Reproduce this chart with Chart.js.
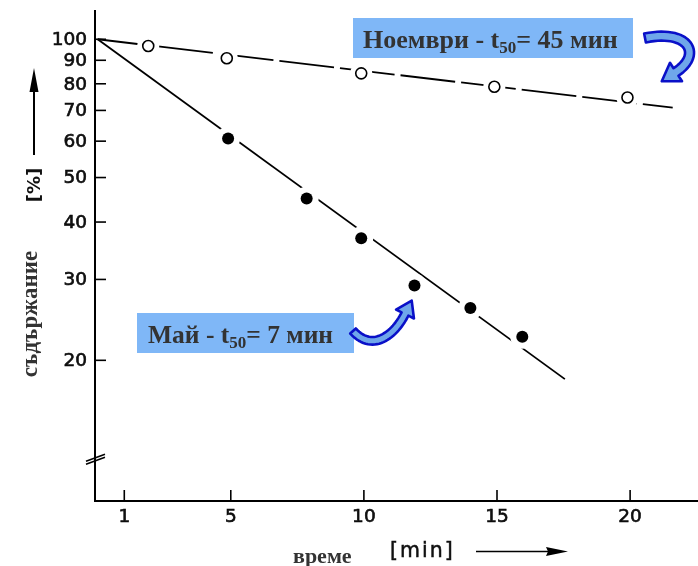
<!DOCTYPE html>
<html><head><meta charset="utf-8">
<script src="https://cdn.jsdelivr.net/npm/chart.js@4.4.1/dist/chart.umd.min.js"></script>
<style>html,body{margin:0;padding:0;background:#fff;}#wrap{width:698px;height:566px;position:relative;}</style>
</head><body><div id="wrap"><canvas id="c" width="698" height="566"></canvas></div>
<script>
// ---- data ----
const xTicks = [1, 5, 10, 15, 20];
const yTicks = [20, 30, 40, 50, 60, 70, 80, 90, 100];
const novTimes = [1.9, 4.85, 9.9, 14.9, 19.9];
const novValues = [96.7, 90.9, 84.3, 78.8, 74.7];
const mayTimes = [4.9, 7.85, 9.9, 11.9, 14.0, 15.95];
const mayValues = [60.8, 45.0, 36.9, 29.1, 26.0, 22.5];
const novFitTimes = [0, 21.6];
const novFitValues = [100, 71];
const mayFitTimes = [0, 17.55];
const mayFitValues = [100, 18.2];
const yTitle = 'съдържание';
const yUnit = '[%]';
const xTitle = 'време';
const xUnit = '[min]';
const novLabel = ['Ноември - t', '50', '= 45 мин'];
const mayLabel = ['Май - t', '50', '= 7 мин'];
const axisBreakValue = 12.3;

const pts = (xs, ys) => xs.map((x, i) => ({x: x, y: ys[i]}));

function boldText(ctx, s, x, y) {
  ctx.fillText(s, x, y);
  ctx.strokeText(s, x, y);
}

const decor = {
  id: 'decor',
  afterDraw(chart) {
    const ctx = chart.ctx, a = chart.chartArea;
    const xs = chart.scales.x, ys = chart.scales.y;
    ctx.save();
    ctx.strokeStyle = '#000'; ctx.fillStyle = '#111';
    // axes
    ctx.lineWidth = 2;
    ctx.beginPath();
    ctx.moveTo(a.left, a.top); ctx.lineTo(a.left, a.bottom); ctx.lineTo(a.right, a.bottom);
    ctx.stroke();
    // y ticks
    ctx.font = '18.5px "DejaVu Sans"';
    ctx.textAlign = 'right'; ctx.textBaseline = 'middle';
    yTicks.forEach(v => {
      const py = ys.getPixelForValue(v);
      ctx.lineWidth = 1.6;
      ctx.beginPath(); ctx.moveTo(a.left, py); ctx.lineTo(a.left + 11, py); ctx.stroke();
      ctx.lineWidth = 0.6;
      boldText(ctx, String(v), a.left - 8, py + 1);
    });
    // x ticks
    ctx.textAlign = 'center'; ctx.textBaseline = 'top';
    xTicks.forEach(v => {
      const px = xs.getPixelForValue(v);
      ctx.lineWidth = 1.6;
      ctx.beginPath(); ctx.moveTo(px, a.bottom); ctx.lineTo(px, a.bottom - 11); ctx.stroke();
      ctx.lineWidth = 0.6;
      boldText(ctx, String(v), px, a.bottom + 7);
    });
    // axis break
    const by = ys.getPixelForValue(axisBreakValue);
    ctx.lineWidth = 1.6;
    [0, 3].forEach(o => {
      ctx.beginPath(); ctx.moveTo(a.left - 9, by + 4 + o); ctx.lineTo(a.left + 10, by - 3 + o); ctx.stroke();
    });
    // y title
    ctx.save();
    ctx.translate(31, 314); ctx.rotate(-Math.PI / 2);
    ctx.fillStyle = '#333'; ctx.font = 'bold 23px "Liberation Serif"';
    ctx.textAlign = 'center'; ctx.textBaseline = 'middle';
    ctx.fillText(yTitle, 0, 0);
    ctx.restore();
    ctx.save();
    ctx.translate(35, 185); ctx.rotate(-Math.PI / 2);
    ctx.fillStyle = '#111'; ctx.font = 'bold 18px "DejaVu Sans"';
    ctx.textAlign = 'center'; ctx.textBaseline = 'middle';
    ctx.fillText(yUnit, 0, 0);
    ctx.restore();
    // up arrow
    ctx.fillStyle = '#000'; ctx.lineWidth = 2;
    ctx.beginPath(); ctx.moveTo(34, 155); ctx.lineTo(34, 88); ctx.stroke();
    ctx.beginPath(); ctx.moveTo(34, 68); ctx.lineTo(29.5, 92); ctx.lineTo(38.5, 92); ctx.closePath(); ctx.fill();
    // x title
    ctx.fillStyle = '#333'; ctx.font = 'bold 22px "Liberation Serif"';
    ctx.textAlign = 'left'; ctx.textBaseline = 'alphabetic';
    ctx.fillText(xTitle, 293, 563);
    ctx.fillStyle = '#111'; ctx.strokeStyle = '#111'; ctx.font = '20.5px "DejaVu Sans"';
    ctx.letterSpacing = '2px';
    ctx.lineWidth = 0.5;
    boldText(ctx, xUnit, 390, 557);
    ctx.letterSpacing = '0px';
    ctx.strokeStyle = '#000';
    ctx.lineWidth = 1.5;
    ctx.beginPath(); ctx.moveTo(476, 551.5); ctx.lineTo(552, 551.5); ctx.stroke();
    ctx.fillStyle = '#000';
    ctx.beginPath(); ctx.moveTo(568, 551.5); ctx.lineTo(546, 547); ctx.lineTo(548, 551.5); ctx.lineTo(546, 556); ctx.closePath(); ctx.fill();
    // annotation boxes
    drawLabel(ctx, novLabel, 353, 18, 280, 40, 363, 48, 26);
    drawLabel(ctx, mayLabel, 137, 313, 217, 40, 148, 343, 25.5);
    // curved arrows
    curvedArrow(ctx, [[645, 38], [690, 29], [702, 55], [676, 72]], 4.5, 11, 17);
    curvedArrow(ctx, [[353, 331], [372, 352], [394, 336], [405, 314]], 3.8, 10, 15);
    ctx.restore();
  }
};

function drawLabel(ctx, parts, bx, by, bw, bh, tx, ty, fs) {
  ctx.fillStyle = '#7fb7f7';
  ctx.fillRect(bx, by, bw, bh);
  ctx.fillStyle = '#333';
  ctx.textAlign = 'left'; ctx.textBaseline = 'alphabetic';
  ctx.font = 'bold ' + fs + 'px "Liberation Serif"';
  ctx.fillText(parts[0], tx, ty);
  let x = tx + ctx.measureText(parts[0]).width;
  ctx.font = 'bold ' + Math.round(fs * 0.66) + 'px "Liberation Serif"';
  ctx.fillText(parts[1], x, ty + 5);
  x += ctx.measureText(parts[1]).width;
  ctx.font = 'bold ' + fs + 'px "Liberation Serif"';
  ctx.fillText(parts[2], x, ty);
}

function curvedArrow(ctx, P, hw, hh, hl) {
  const bz = (t, k) => { const u = 1 - t; return u*u*u*P[0][k] + 3*u*u*t*P[1][k] + 3*u*t*t*P[2][k] + t*t*t*P[3][k]; };
  const dz = (t, k) => { const u = 1 - t; return 3*u*u*(P[1][k]-P[0][k]) + 6*u*t*(P[2][k]-P[1][k]) + 3*t*t*(P[3][k]-P[2][k]); };
  const L = [], R = [], N = 30;
  for (let i = 0; i <= N; i++) {
    const t = i / N; const x = bz(t, 0), y = bz(t, 1);
    let dx = dz(t, 0), dy = dz(t, 1); const m = Math.hypot(dx, dy); dx /= m; dy /= m;
    L.push([x - dy * hw, y + dx * hw]); R.push([x + dy * hw, y - dx * hw]);
  }
  let dx = dz(1, 0), dy = dz(1, 1); const m = Math.hypot(dx, dy); dx /= m; dy /= m;
  const E = P[3];
  ctx.beginPath();
  ctx.moveTo(L[0][0], L[0][1]);
  L.forEach(p => ctx.lineTo(p[0], p[1]));
  ctx.lineTo(E[0] - dy * hh, E[1] + dx * hh);
  ctx.lineTo(E[0] + dx * hl, E[1] + dy * hl);
  ctx.lineTo(E[0] + dy * hh, E[1] - dx * hh);
  for (let i = R.length - 1; i >= 0; i--) ctx.lineTo(R[i][0], R[i][1]);
  ctx.closePath();
  ctx.fillStyle = '#6fa6ea';
  ctx.fill();
  ctx.strokeStyle = '#0a10c8'; ctx.lineWidth = 2.6; ctx.lineJoin = 'round';
  ctx.stroke();
}

new Chart(document.getElementById('c'), {
  type: 'scatter',
  data: {
    datasets: [
      {data: pts(novTimes, novValues), pointRadius: 5.5, pointBackgroundColor: '#fff', pointBorderColor: '#000', pointBorderWidth: 1.6, showLine: false, order: 1},
      {data: pts(mayTimes, mayValues), pointRadius: 6, pointBackgroundColor: '#000', pointBorderColor: '#000', pointBorderWidth: 0, showLine: false, order: 1},
      {data: pts(novTimes, novValues), pointRadius: 11, pointBackgroundColor: '#fff', pointBorderWidth: 0, pointBorderColor: 'rgba(0,0,0,0)', showLine: false, order: 2},
      {data: pts(mayTimes, mayValues), pointRadius: 12, pointBackgroundColor: '#fff', pointBorderWidth: 0, pointBorderColor: 'rgba(0,0,0,0)', showLine: false, order: 2},
      {data: pts(novFitTimes, novFitValues), showLine: true, borderColor: '#000', borderWidth: 1.8, borderDash: [55, 6], pointRadius: 0, order: 3},
      {data: pts(mayFitTimes, mayFitValues), showLine: true, borderColor: '#000', borderWidth: 1.8, pointRadius: 0, order: 3}
    ]
  },
  options: {
    responsive: false, animation: false, devicePixelRatio: 1,
    layout: {autoPadding: false, padding: {left: 95, top: 10, right: 0, bottom: 65}},
    scales: {
      x: {type: 'linear', min: -0.1, max: 22.55, display: false},
      y: {type: 'logarithmic', min: 9.88, max: 115.8, display: false}
    },
    plugins: {legend: {display: false}, tooltip: {enabled: false}},
    events: []
  },
  plugins: [decor]
});
</script></body></html>
